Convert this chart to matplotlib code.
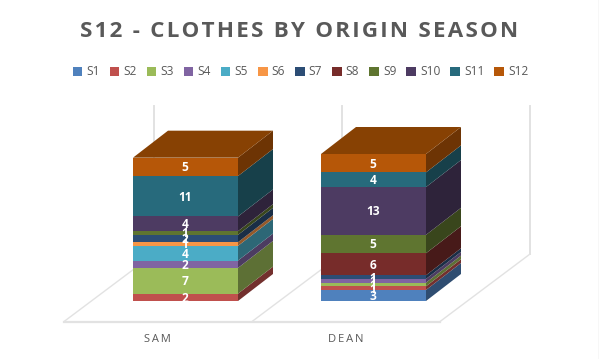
import numpy as np
import matplotlib
matplotlib.use('Agg')
import matplotlib.pyplot as plt
from matplotlib.patches import Polygon

plt.rcParams['font.family'] = ['Open Sans', 'DejaVu Sans']

people = ['SAM', 'DEAN']
seasons = ['S1', 'S2', 'S3', 'S4', 'S5', 'S6', 'S7', 'S8', 'S9', 'S10', 'S11', 'S12']
sam = [0, 2, 7, 2, 4, 1, 2, 0, 1, 4, 11, 5]
dean = [3, 1, 1, 1, 0, 0, 1, 6, 5, 13, 4, 5]
colors = ['#4f81bd', '#c0504d', '#9bbb59', '#8064a2', '#4bacc6', '#f79646',
          '#2c4d75', '#772c2a', '#5f7530', '#4d3b62', '#276a7c', '#b65708']
side_colors = ['#2f4d71', '#73302e', '#5d7035', '#4c3c61', '#2d6776', '#94592a',
               '#1a2e46', '#471a19', '#39461c', '#2e233a', '#17404a', '#6d3404']
top_color = '#874103'

# one category = 188 px, one clothes item = 3.675 px
px_x = 188.0
px_y = 3.675
x0 = 185.5
y0 = 301.0
bar_w = 105 / px_x
dep_x = 35 / px_x
dep_y = 27 / px_y
floor_dx = 90 / px_x
floor_dy = 67.5 / px_y
floor_off = -0.146
front_y = -20.5 / px_y
wall_top = 195 / px_y

fig = plt.figure(figsize=(5.99, 3.59), dpi=100)
ax = fig.add_axes([0, 0, 1, 1])
ax.set_xlim(-x0 / px_x, (599 - x0) / px_x)
ax.set_ylim((y0 - 359) / px_y, y0 / px_y)
ax.axis('off')

# floor and walls
grid = '#e2e2e2'
for i in [-0.5, 0.5, 1.5]:
    xl = i + floor_off
    ax.plot([xl, xl + floor_dx], [front_y, front_y + floor_dy], color=grid, lw=1.0, zorder=1)
    ax.plot([xl + floor_dx, xl + floor_dx], [front_y + floor_dy, wall_top], color=grid, lw=1.4, zorder=1)
ax.plot([-0.5 + floor_off, 1.5 + floor_off], [front_y, front_y], color=grid, lw=1.6, zorder=1)

# chart border on the right edge
ax.axvline((598.5 - x0) / px_x, color='#d9d9d9', lw=1.0)

for i, vals in enumerate([sam, dean]):
    bottom = 0
    left = i - bar_w / 2
    right = i + bar_w / 2
    for v, c, sc, in zip(vals, colors, side_colors):
        if v == 0:
            continue
        top = bottom + v
        ax.add_patch(Polygon([(right, bottom), (right + dep_x, bottom + dep_y),
                              (right + dep_x, top + dep_y), (right, top)],
                             fc=sc, ec='none', zorder=3))
        ax.add_patch(Polygon([(left, bottom), (right, bottom), (right, top), (left, top)],
                             fc=c, ec='none', zorder=4))
        bottom = top
    ax.add_patch(Polygon([(left, bottom), (right, bottom), (right + dep_x, bottom + dep_y),
                          (left + dep_x, bottom + dep_y)], fc=top_color, ec='none', zorder=4))
    # labels drawn after the faces so they overlap as in the original
    bottom = 0
    for v in vals:
        if v:
            ax.text(i - 0.004, bottom + v / 2 - 0.25, str(v), color='white', fontsize=8.6, fontweight='bold',
                    ha='center', va='center', zorder=6)
        bottom += v
    ax.text(i - 0.149, -38.5 / px_y, '\u2009'.join(people[i]),
            color='#595959', fontsize=8, ha='center', va='center')

# title
ax.text(0.4985, 0.911, '\u200a'.join('S12 - CLOTHES BY ORIGIN SEASON'), transform=ax.transAxes,
        color='#595959', fontsize=16.1, fontweight='bold', ha='center', va='center')

# legend
handles = [plt.Rectangle((0, 0), 1, 1, fc=c, ec='none') for c in colors]
fig.legend(handles, seasons, loc='center', bbox_to_anchor=(0.5016, 0.8), ncol=12, frameon=False,
           fontsize=8.6, labelcolor='#595959', handlelength=0.8, handleheight=0.8,
           handletextpad=0.35, columnspacing=0.83, borderpad=0)

fig.savefig('out.png', dpi=100)
